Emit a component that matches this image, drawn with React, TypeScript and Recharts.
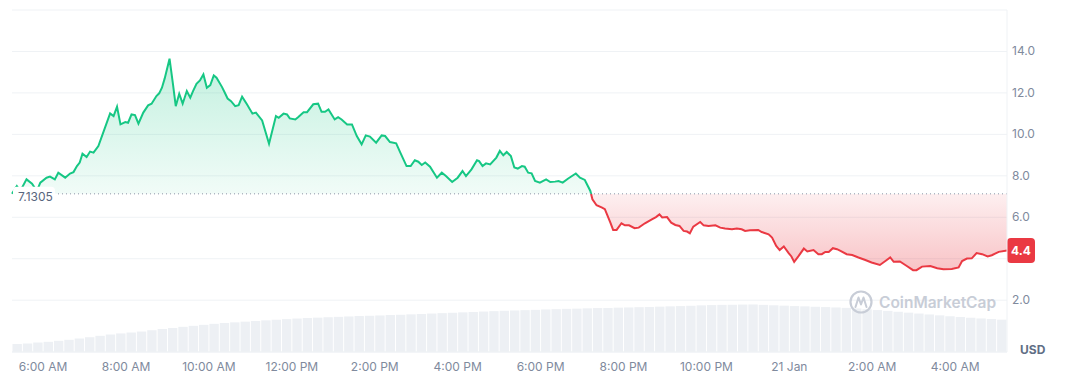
import React from 'react';
import { ComposedChart, Area, Bar, XAxis, YAxis, CartesianGrid, ReferenceLine, Label } from 'recharts';

// Opening (reference) price of the 24h window
const BASE_PRICE = 7.1305;

// Price samples: minutes since 00:00 of 20 Jan (values > 1440 are on 21 Jan)
const priceTimes = [
  315, 322, 327, 336, 344, 351, 356, 365, 370, 377, 382, 392, 399, 404, 409, 413, 417, 423, 428, 433,
  440, 447, 457, 462, 467, 472, 479, 483, 488, 493, 498, 505, 512, 517, 524, 528, 532, 536, 543, 548,
  552, 557, 562, 568, 573, 577, 582, 587, 592, 597, 602, 607, 611, 619, 623, 627, 632, 638, 643, 648,
  655, 663, 668, 677, 687, 697, 701, 708, 713, 717, 725, 729, 737, 742, 751, 758, 763, 768, 773, 782,
  787, 792, 800, 807, 814, 821, 827, 833, 842, 850, 855, 862, 871, 877, 886, 892, 898, 903, 908, 913,
  920, 930, 937, 943, 952, 960, 967, 972, 980, 988, 991, 996, 1001, 1007, 1016, 1021, 1026, 1031, 1037, 1042,
  1047, 1053, 1057, 1062, 1067, 1072, 1079, 1088, 1094, 1101, 1106, 1112, 1120, 1131, 1137, 1144, 1152, 1155, 1161, 1169,
  1173, 1181, 1185, 1190, 1197, 1202, 1208, 1216, 1222, 1231, 1241, 1247, 1252, 1256, 1263, 1269, 1275, 1281, 1287, 1292,
  1296, 1301, 1311, 1316, 1323, 1333, 1340, 1347, 1357, 1364, 1371, 1376, 1383, 1395, 1400, 1410, 1415, 1421, 1426, 1432,
  1439, 1443, 1447, 1453, 1461, 1466, 1475, 1482, 1487, 1492, 1497, 1503, 1509, 1514, 1523, 1531, 1540, 1550, 1559, 1571,
  1579, 1586, 1591, 1600, 1610, 1619, 1624, 1632, 1644, 1654, 1663, 1675, 1685, 1690, 1697, 1704, 1711, 1719, 1727, 1733,
  1743, 1755,
];

const priceValues = [
  7.13, 7.51, 7.27, 7.83, 7.62, 7.27, 7.67, 7.91, 7.96, 7.83, 8.15, 7.91, 8.11, 8.18, 8.47, 8.64, 9.07, 8.91, 9.17, 9.12,
  9.44, 10.08, 11.01, 10.88, 11.33, 10.48, 10.59, 10.56, 10.96, 10.93, 10.52, 11.05, 11.4, 11.48, 11.85, 11.98, 12.25, 12.7, 13.65, 12.41,
  11.36, 11.96, 11.48, 12.09, 11.77, 12.09, 12.44, 12.6, 12.89, 12.25, 12.38, 12.84, 12.73, 12.28, 12.01, 11.73, 11.6, 11.36, 11.41, 11.82,
  11.45, 11.0, 11.05, 10.67, 9.55, 10.88, 10.8, 11.0, 10.96, 10.77, 10.72, 10.83, 11.07, 11.07, 11.45, 11.48, 11.09, 11.09, 11.2, 10.72,
  10.83, 10.72, 10.48, 10.48, 9.92, 9.52, 9.95, 9.89, 9.6, 9.95, 9.92, 9.63, 9.57, 9.12, 8.47, 8.47, 8.75, 8.68, 8.52, 8.64,
  8.44, 7.91, 8.15, 7.99, 7.7, 7.91, 8.23, 7.99, 8.31, 8.75, 8.71, 8.47, 8.6, 8.55, 8.88, 9.2, 8.99, 9.15, 8.95, 8.4,
  8.35, 8.47, 8.44, 8.15, 8.12, 7.75, 7.67, 7.83, 7.7, 7.72, 7.75, 7.67, 7.87, 8.11, 7.91, 7.8, 7.27, 6.87, 6.58, 6.47,
  6.39, 5.74, 5.39, 5.39, 5.71, 5.61, 5.61, 5.47, 5.5, 5.71, 5.9, 6.01, 6.14, 5.99, 6.01, 5.74, 5.63, 5.58, 5.34, 5.31,
  5.23, 5.55, 5.77, 5.61, 5.58, 5.61, 5.5, 5.46, 5.42, 5.46, 5.42, 5.34, 5.37, 5.39, 5.29, 5.18, 5.02, 4.62, 4.42, 4.59,
  4.27, 4.11, 3.85, 4.11, 4.49, 4.35, 4.42, 4.22, 4.22, 4.33, 4.33, 4.51, 4.46, 4.38, 4.22, 4.18, 4.06, 3.94, 3.82, 3.7,
  3.89, 4.06, 3.85, 3.87, 3.65, 3.45, 3.45, 3.62, 3.65, 3.54, 3.49, 3.51, 3.58, 3.89, 4.01, 4.02, 4.27, 4.22, 4.11, 4.17,
  4.33, 4.4,
];

// Volume bars, one per 15 minutes starting at 05:15 (arbitrary units)
const VOLUME_START = 315;
const VOLUME_STEP = 15;
const volumeValues = [
  0.8, 0.85, 0.95, 1.02, 1.12, 1.22, 1.35, 1.48, 1.62, 1.75, 1.86, 1.95, 2.05, 2.18, 2.3, 2.4,
  2.52, 2.62, 2.72, 2.82, 2.9, 2.97, 3.04, 3.1, 3.17, 3.23, 3.29, 3.35, 3.4, 3.44, 3.48, 3.52,
  3.56, 3.6, 3.63, 3.66, 3.7, 3.73, 3.77, 3.81, 3.85, 3.89, 3.93, 3.97, 4.01, 4.05, 4.09, 4.13,
  4.16, 4.19, 4.22, 4.26, 4.29, 4.32, 4.34, 4.37, 4.4, 4.41, 4.44, 4.46, 4.49, 4.51, 4.54, 4.57,
  4.6, 4.63, 4.67, 4.7, 4.72, 4.73, 4.75, 4.76, 4.72, 4.68, 4.64, 4.6, 4.57, 4.53, 4.5, 4.46,
  4.42, 4.36, 4.28, 4.2, 4.12, 4.03, 3.94, 3.85, 3.76, 3.67, 3.58, 3.5, 3.43, 3.36, 3.3, 3.24,
];

const timeTicks = [360, 480, 600, 720, 840, 960, 1080, 1200, 1320, 1440, 1560, 1680];
const timeTickLabels = ['6:00 AM', '8:00 AM', '10:00 AM', '12:00 PM', '2:00 PM', '4:00 PM', '6:00 PM', '8:00 PM', '10:00 PM', '21 Jan', '2:00 AM', '4:00 AM'];
const priceTicks = [2, 4, 6, 8, 10, 12, 14];

const GREEN = '#16c784';
const RED = '#ea3943';
const LABEL = '#808a9d';
const GRID = '#eff2f5';
const VOL = '#edf0f4';
const VOL_BAR_WIDTH = 9.4;

type Row = { t: number; price?: number; volume?: number };

const rows: Row[] = [
  ...priceTimes.map((t, i) => ({ t, price: priceValues[i] })),
  ...volumeValues.map((v, i) => ({ t: VOLUME_START + VOLUME_STEP / 2 + VOLUME_STEP * i, volume: v })),
].sort((a, b) => a.t - b.t);

const maxP = Math.max(...priceValues);
const minP = Math.min(...priceValues);
const baseOffset = (maxP - BASE_PRICE) / (maxP - minP);
const lastPrice = priceValues[priceValues.length - 1];

const PriceTick = (props: any) => {
  const { x, y, payload } = props;
  if (Math.abs(payload.value - lastPrice) < 0.8) return <g />;
  return (
    <text x={x} y={y} dy={4} fill={LABEL} fontSize={12} fontFamily="Inter, sans-serif" textAnchor="start">
      {Number(payload.value).toFixed(1)}
    </text>
  );
};

const VolumeBar = (props: any) => {
  const { x, y, width, height } = props;
  if (height == null || !isFinite(height) || height <= 0) return <g />;
  const cx = x + (width || 0) / 2;
  return <rect x={cx - VOL_BAR_WIDTH / 2} y={y} width={VOL_BAR_WIDTH} height={height} fill={VOL} />;
};

const BaseLabel = (props: any) => {
  const vb = props.viewBox || {};
  return (
    <g>
      <rect x={vb.x + 1} y={vb.y - 7} width={42} height={16} rx={4} fill="#ffffff" />
      <text x={vb.x + 6} y={vb.y + 7} fill="#58667e" fontSize={12} fontFamily="Inter, sans-serif">
        {BASE_PRICE.toString()}
      </text>
    </g>
  );
};

const LastLabel = (props: any) => {
  const vb = props.viewBox || {};
  const x = vb.x + vb.width;
  return (
    <g>
      <rect x={x} y={vb.y - 12.5} width={28} height={25} rx={4} fill={RED} />
      <text x={x + 14} y={vb.y + 4.5} fill="#ffffff" fontSize={12} fontWeight={700} fontFamily="Inter, sans-serif" textAnchor="middle">
        {lastPrice.toFixed(1)}
      </text>
    </g>
  );
};

export default function App() {
  return (
    <div style={{ position: 'relative', width: 1058, height: 374, fontFamily: 'Inter, sans-serif' }}>
      <ComposedChart width={1058} height={374} data={rows} margin={{ top: 2, right: 0, left: 4, bottom: 0 }}>
        <defs>
          <linearGradient id="fillGrad" x1="0" y1="0" x2="0" y2="1">
            <stop offset="0" stopColor={GREEN} stopOpacity={0.26} />
            <stop offset={baseOffset} stopColor={GREEN} stopOpacity={0.06} />
            <stop offset={baseOffset} stopColor={RED} stopOpacity={0.08} />
            <stop offset="1" stopColor={RED} stopOpacity={0.3} />
          </linearGradient>
          <linearGradient id="strokeGrad" x1="0" y1="0" x2="0" y2="1">
            <stop offset="0" stopColor={GREEN} />
            <stop offset={baseOffset} stopColor={GREEN} />
            <stop offset={baseOffset} stopColor={RED} />
            <stop offset="1" stopColor={RED} />
          </linearGradient>
        </defs>
        <CartesianGrid yAxisId="price" vertical={false} stroke={GRID} strokeWidth={1} />
        <XAxis
          dataKey="t"
          type="number"
          domain={[315, 1755]}
          ticks={timeTicks}
          interval={0}
          tickFormatter={(v: number) => timeTickLabels[timeTicks.indexOf(v)]}
          tick={{ fill: LABEL, fontSize: 12, fontFamily: 'Inter, sans-serif' }}
          tickLine={false}
          tickSize={0}
          tickMargin={10}
          axisLine={{ stroke: GRID }}
          height={30}
        />
        <YAxis
          yAxisId="price"
          orientation="right"
          type="number"
          domain={[-0.5, 16]}
          allowDataOverflow
          ticks={priceTicks}
          interval={0}
          tick={<PriceTick />}
          tickLine={false}
          tickSize={0}
          tickMargin={5}
          axisLine={{ stroke: GRID }}
          width={59}
        />
        <YAxis
          yAxisId="vol"
          orientation="left"
          type="number"
          domain={[0, 34.25]}
          allowDataOverflow
          tick={false}
          tickLine={false}
          axisLine={{ stroke: GRID }}
          width={0}
        />
        <Bar yAxisId="vol" dataKey="volume" fill={VOL} shape={<VolumeBar />} isAnimationActive={false} />
        <Area
          yAxisId="price"
          type="linear"
          dataKey="price"
          baseValue={BASE_PRICE}
          connectNulls
          stroke="url(#strokeGrad)"
          strokeWidth={2}
          fill="url(#fillGrad)"
          fillOpacity={1}
          dot={false}
          activeDot={false}
          isAnimationActive={false}
        />
        <ReferenceLine yAxisId="price" y={BASE_PRICE} stroke="#8c94a6" strokeDasharray="1 3" strokeWidth={1}>
          <Label content={<BaseLabel />} />
        </ReferenceLine>
        <ReferenceLine yAxisId="price" y={lastPrice} stroke="none">
          <Label content={<LastLabel />} />
        </ReferenceLine>
      </ComposedChart>
      <svg width={1058} height={374} style={{ position: 'absolute', left: 0, top: 0, pointerEvents: 'none' }}>
        <g>
          <circle cx={853} cy={294} r={10.5} fill="none" stroke="#c8cdd7" strokeWidth={2.2} />
          <path d="M847.5,299 L850.5,289.5 L853,296.5 L855.5,289.5 L858.5,299" fill="none" stroke="#c8cdd7" strokeWidth={2} strokeLinejoin="round" strokeLinecap="round" />
          <text x={871} y={300} fill="#c8cdd7" fontSize={15.5} fontWeight={600} fontFamily="Inter, sans-serif">
            CoinMarketCap
          </text>
        </g>
        <text x={1012} y={346} fill="#616e85" fontSize={12} fontWeight={700} fontFamily="Inter, sans-serif">
          USD
        </text>
      </svg>
    </div>
  );
}
